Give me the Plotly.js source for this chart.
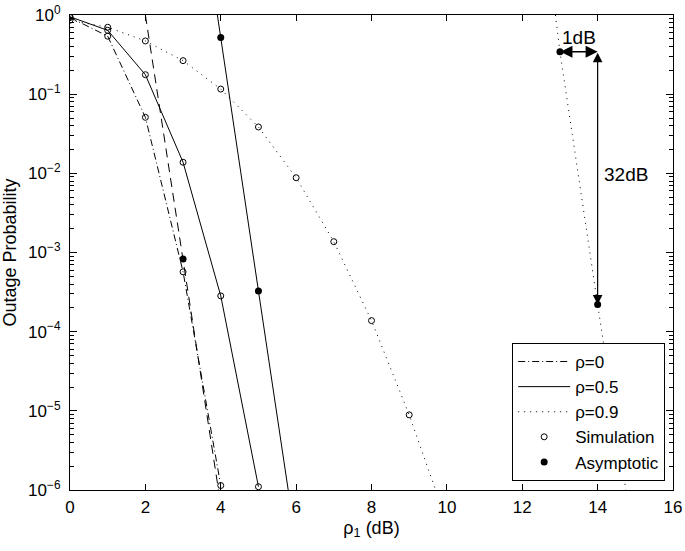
<!DOCTYPE html>
<html>
<head>
<meta charset="utf-8">
<script src="https://cdn.plot.ly/plotly-3.0.1.min.js"></script>
<style>html,body{margin:0;padding:0;background:#fff;}#chart{width:685px;height:551px;}</style>
</head>
<body>
<div id="chart"></div>
<script>
// ---- data ----
const simX0 = [0, 1, 2, 3, 4];
const simY0 = [0.93, 0.54, 0.051, 5.7e-4, 1.14e-6];
const simX05 = [0, 1, 2, 3, 4, 5];
const simY05 = [0.95, 0.64, 0.176, 0.0138, 2.83e-4, 1.1e-6];
const simX09 = [0, 1, 2, 3, 4, 5, 6, 7, 8, 9];
const simY09 = [0.86, 0.70, 0.47, 0.265, 0.116, 0.0385, 0.0088, 0.00137, 1.38e-4, 8.9e-6];
const tailX09 = [9.7];
const tailY09 = [1e-6];

const asymLineX0 = [2.0, 3, 3.94];
const asymLineY0 = [1, 8.3e-4, 1e-6];
const asymLineX05 = [3.91, 4, 5, 5.79];
const asymLineY05 = [1, 0.52, 3.27e-4, 1e-6];
const asymLineX09 = [12.88, 13, 14, 14.75];
const asymLineY09 = [1, 0.344, 2.2e-4, 1e-6];

const asymDotX = [3, 4, 5, 13, 14];
const asymDotY = [8.3e-4, 0.52, 3.27e-4, 0.344, 2.2e-4];

const xTickVals = [0, 2, 4, 6, 8, 10, 12, 14, 16];
const yTickVals = [1e-6, 1e-5, 1e-4, 1e-3, 1e-2, 1e-1, 1];
const yTickText = ['10<sup>−6</sup>', '10<sup>−5</sup>', '10<sup>−4</sup>', '10<sup>−3</sup>',
                   '10<sup>−2</sup>', '10<sup>−1</sup>', '10<sup>0</sup>'];

const seriesNames = ['ρ=0', 'ρ=0.5', 'ρ=0.9', 'Simulation', 'Asymptotic'];

// minor log tick positions (2..9 in each decade)
const yMinorVals = [];
for (let e = -6; e < 0; e++) {
  for (let d = 2; d <= 9; d++) yMinorVals.push(d * Math.pow(10, e));
}

// ---- styles ----
const FONT = 'Liberation Sans, Arial, Helvetica, sans-serif';
const dashDot = '7px,3px,1px,3px';
const dotted = '1px,5px';
const dashed = '9px,6px';

const traces = [
  {x: simX0, y: simY0, mode: 'lines', name: seriesNames[0],
   line: {color: '#000', width: 1, dash: dashDot}},
  {x: simX05, y: simY05, mode: 'lines', name: seriesNames[1],
   line: {color: '#000', width: 1}},
  {x: simX09.concat(tailX09), y: simY09.concat(tailY09), mode: 'lines', name: seriesNames[2],
   line: {color: '#000', width: 1, dash: dotted}},
  {x: asymLineX0, y: asymLineY0, mode: 'lines', showlegend: false,
   line: {color: '#000', width: 1, dash: dashed}},
  {x: asymLineX05, y: asymLineY05, mode: 'lines', showlegend: false,
   line: {color: '#000', width: 1}},
  {x: asymLineX09, y: asymLineY09, mode: 'lines', showlegend: false,
   line: {color: '#000', width: 1, dash: dotted}},
  {x: simX0.concat(simX05, simX09), y: simY0.concat(simY05, simY09), mode: 'markers',
   name: seriesNames[3],
   marker: {symbol: 'circle-open', size: 6, color: '#000', line: {width: 1, color: '#000'}}},
  {x: asymDotX, y: asymDotY, mode: 'markers', name: seriesNames[4],
   marker: {symbol: 'circle', size: 7, color: '#000'}}
];

const yA = Math.log10(asymDotY[3]);
const yB = Math.log10(asymDotY[4]);

const layout = {
  width: 685, height: 551,
  margin: {l: 70, r: 12, t: 15, b: 61},
  paper_bgcolor: '#fff', plot_bgcolor: '#fff',
  font: {family: FONT, size: 17, color: '#000'},
  showlegend: true,
  legend: {
    x: 0.987, y: 0.019, xanchor: 'right', yanchor: 'bottom',
    bgcolor: '#fff', bordercolor: '#000', borderwidth: 1,
    font: {family: FONT, size: 17, color: '#000'},
    itemwidth: 52,
    tracegroupgap: 0
  },
  xaxis: {
    range: [0, 16], tickvals: xTickVals, ticks: 'inside', ticklen: 6, tickcolor: '#000',
    showline: true, linecolor: '#000', linewidth: 1, mirror: 'ticks',
    showgrid: false, zeroline: false, ticklabelstandoff: 2,
    tickfont: {family: FONT, size: 17},
    title: {text: 'ρ<sub>1</sub> (dB)', font: {family: FONT, size: 18}, standoff: 4}
  },
  yaxis: {
    type: 'log', range: [-6, 0], tickvals: yTickVals, ticktext: yTickText,
    ticks: 'inside', ticklen: 7, tickcolor: '#000',
    minor: {tickmode: 'array', tickvals: yMinorVals, ticks: 'inside', ticklen: 4, tickcolor: '#000', showgrid: false},
    showline: true, linecolor: '#000', linewidth: 1, mirror: 'ticks',
    showgrid: false, zeroline: false, ticklabelstandoff: 5,
    tickfont: {family: FONT, size: 17},
    title: {text: 'Outage Probability', font: {family: FONT, size: 18}, standoff: 13}
  },
  annotations: [
    {x: 13.5, y: -0.29, xref: 'x', yref: 'y', text: '1dB', showarrow: false,
     font: {family: FONT, size: 19, color: '#000'}},
    {x: 14.76, y: -2.02, xref: 'x', yref: 'y', text: '32dB', showarrow: false,
     font: {family: FONT, size: 19, color: '#000'}},
    {x: asymDotX[4], y: yA, ax: asymDotX[3], ay: yA, xref: 'x', yref: 'y', axref: 'x', ayref: 'y',
     text: ' ', font: {size: 1}, borderpad: 0, showarrow: true, arrowside: 'end+start',
     arrowhead: 2, startarrowhead: 2, arrowsize: 1.6, startarrowsize: 1.6, arrowwidth: 1.5, arrowcolor: '#000',
     standoff: 0, startstandoff: 0},
    {x: asymDotX[4], y: yB, ax: asymDotX[4], ay: yA, xref: 'x', yref: 'y', axref: 'x', ayref: 'y',
     text: ' ', font: {size: 1}, borderpad: 0, showarrow: true, arrowside: 'end+start',
     arrowhead: 2, startarrowhead: 2, arrowsize: 1.6, startarrowsize: 1.6, arrowwidth: 1.2, arrowcolor: '#000',
     standoff: 0, startstandoff: 0}
  ]
};

Plotly.newPlot('chart', traces, layout, {displayModeBar: false, staticPlot: true});
</script>
</body>
</html>
